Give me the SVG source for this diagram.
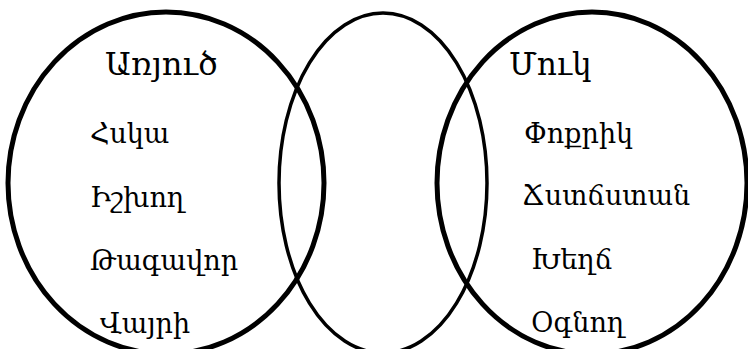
<svg xmlns="http://www.w3.org/2000/svg" width="748" height="349" viewBox="0 0 748 349">
<style>
.ring{fill:none;stroke:#000}
.thick{stroke-width:5}
.thin{stroke-width:3.5}
text{font-family:"DejaVu Serif","Liberation Serif",serif;fill:#000}
.title{font-size:32px}
.item{font-size:27px}
</style>
<rect width="748" height="349" fill="#fff"/>
<g id="connectors"></g>
<g id="left-set">
<ellipse class="ring thick" cx="166" cy="183" rx="158" ry="171"/>
<text class="title" x="105" y="75">Առյուծ</text>
<text class="item" x="90" y="143">Հսկա</text>
<text class="item" x="90" y="207">Իշխող</text>
<text class="item" x="90" y="270">Թագավոր</text>
<text class="item" x="100" y="333">Վայրի</text>
</g>
<g id="middle-set">
<ellipse class="ring thin" cx="383" cy="183" rx="104" ry="170"/>
</g>
<g id="right-set">
<ellipse class="ring thick" cx="592" cy="183" rx="155" ry="171"/>
<text class="title" x="509" y="75" style="font-size:31px">Մուկ</text>
<text class="item" x="524" y="143">Փոքրիկ</text>
<text class="item" x="522" y="205">Ճստճստան</text>
<text class="item" x="531" y="269">Խեղճ</text>
<text class="item" x="531" y="332">Օգնող</text>
</g>
</svg>
